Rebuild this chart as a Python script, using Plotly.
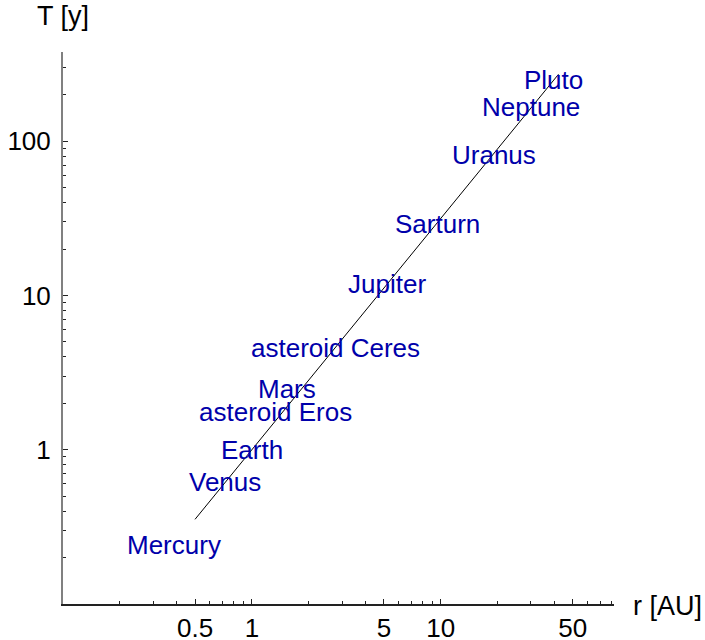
import math
import plotly.graph_objects as go

# Orbital radius (AU) and period (years) for each labelled body
bodies = ["Mercury", "Venus", "Earth", "Mars", "asteroid Eros", "asteroid Ceres",
          "Jupiter", "Sarturn", "Uranus", "Neptune", "Pluto"]
radius_au = [0.387, 0.723, 1.0, 1.54, 1.33, 2.77, 5.2, 9.6, 19.2, 30.1, 39.4]
period_y = [0.241, 0.615, 1.0, 2.47, 1.75, 4.6, 11.8, 29.0, 82.0, 166.0, 248.0]

# Kepler's third-law reference line (straight on log-log axes), endpoints only
line_r = [0.5, 42.0]
line_T = [0.354, 272.0]

# Axis ticks
x_major = [0.5, 1, 5, 10, 50]
x_major_text = ["0.5", "1", "5", "10", "50"]
x_minor = [0.2, 0.3, 0.4, 0.6, 0.7, 0.8, 0.9, 2, 3, 4, 6, 7, 8, 9,
           20, 30, 40, 60, 70, 80]
y_major = [1, 10, 100]
y_major_text = ["1", "10", "100"]
y_minor = [0.2, 0.3, 0.4, 0.5, 0.6, 0.7, 0.8, 0.9, 2, 3, 4, 5, 6, 7, 8, 9,
           20, 30, 40, 50, 60, 70, 80, 90, 200, 300]

FONT = "Liberation Sans, Arial, Helvetica, sans-serif"
BLUE = "rgb(0,0,170)"

fig = go.Figure()
fig.add_trace(go.Scatter(x=line_r, y=line_T, mode="lines",
                         line=dict(color="black", width=1), hoverinfo="skip"))

# Body names centred on their (r, T) positions; log axes take log10 coords
labels = [
    dict(text=name, x=math.log10(r), y=math.log10(t), xref="x", yref="y",
         showarrow=False, xanchor="center", yanchor="middle", yshift=0,
         font=dict(family=FONT, size=26, color=BLUE))
    for name, r, t in zip(bodies, radius_au, period_y)
]

titles = [
    dict(text="T [y]", xref="paper", yref="paper", x=0, y=1,
         xshift=0, yshift=19, showarrow=False, xanchor="center",
         yanchor="bottom", font=dict(family=FONT, size=27, color="black")),
    dict(text="r [AU]", xref="paper", yref="paper", x=1, y=0,
         xshift=17, yshift=-2, showarrow=False, xanchor="left",
         yanchor="middle", font=dict(family=FONT, size=27, color="black")),
]

fig.update_layout(
    width=705, height=640,
    margin=dict(l=63, r=91, t=52, b=36, autoexpand=False),
    paper_bgcolor="white", plot_bgcolor="white",
    showlegend=False,
    font=dict(family=FONT, size=26, color="black"),
    annotations=labels + titles,
)

fig.update_xaxes(
    type="log", range=[-1, 1.917], showgrid=False, zeroline=False,
    showline=True, linecolor="#222", linewidth=1.5,
    tickmode="array", tickvals=x_major, ticktext=x_major_text,
    ticks="inside", ticklen=5, tickwidth=1, tickcolor="#222",
    tickfont=dict(family=FONT, size=26, color="black"),
    minor=dict(tickmode="array", tickvals=x_minor, ticks="inside",
               ticklen=3, tickwidth=1, tickcolor="#222"),
    automargin=False,
)
fig.update_yaxes(
    type="log", range=[-1, 2.579], showgrid=False, zeroline=False,
    showline=True, linecolor="#808080", linewidth=2,
    tickmode="array", tickvals=y_major, ticktext=y_major_text,
    ticks="inside", ticklen=5, tickwidth=1, tickcolor="#222",
    tickfont=dict(family=FONT, size=26, color="black"),
    ticklabelstandoff=5,
    minor=dict(tickmode="array", tickvals=y_minor, ticks="inside",
               ticklen=3, tickwidth=1, tickcolor="#222"),
    automargin=False,
)

fig.write_html("out.html")
